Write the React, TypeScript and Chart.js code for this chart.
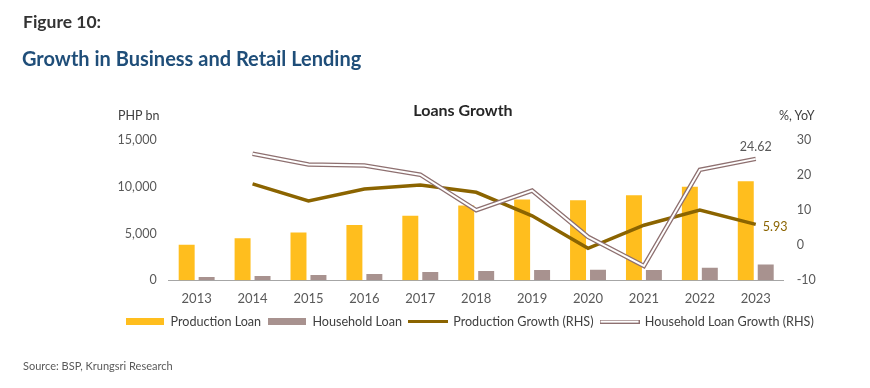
import React, { useEffect, useRef } from 'react';
import { Chart, registerables } from 'chart.js';
Chart.register(...registerables);

const years = ['2013', '2014', '2015', '2016', '2017', '2018', '2019', '2020', '2021', '2022', '2023'];
const productionLoan = [3800, 4500, 5100, 5900, 6900, 8000, 8650, 8550, 9100, 10000, 10600];
const householdLoan = [350, 460, 570, 680, 900, 1000, 1110, 1140, 1100, 1330, 1680];
const productionGrowth = [null, 17.5, 12.6, 16.0, 17.2, 15.1, 8.4, -0.9, 5.7, 10.0, 5.93];
const householdGrowth = [null, 26.1, 23.0, 22.7, 20.1, 10.0, 15.6, 2.4, -5.9, 21.5, 24.62];
const leftTicks = [0, 5000, 10000, 15000];
const rightTicks = [-10, 0, 10, 20, 30];

const C = {
  prod: '#FFBE1E',
  hh: '#A8928F',
  prodLine: '#8B6400',
  hhOutline: '#8E7070',
  tick: '#595959',
  legend: '#404040',
};
const FONT = 'Lato';

function swatch(w: number, h: number, draw: (ctx: CanvasRenderingContext2D) => void) {
  const c = document.createElement('canvas');
  c.width = w;
  c.height = h;
  const ctx = c.getContext('2d')!;
  draw(ctx);
  return c;
}

const endLabels = {
  id: 'endLabels',
  afterDatasetsDraw(chart: any) {
    const ctx = chart.ctx;
    const last = years.length - 1;
    const pHH = chart.getDatasetMeta(3).data[last];
    const pProd = chart.getDatasetMeta(2).data[last];
    ctx.save();
    ctx.font = `12.5px ${FONT}`;
    ctx.textBaseline = 'middle';
    if (pHH) {
      ctx.fillStyle = '#595959';
      ctx.textAlign = 'center';
      ctx.fillText((householdGrowth[last] as number).toFixed(2), pHH.x, pHH.y - 12);
    }
    if (pProd) {
      ctx.fillStyle = C.prodLine;
      ctx.textAlign = 'left';
      ctx.fillText((productionGrowth[last] as number).toFixed(2), pProd.x + 7, pProd.y + 3);
    }
    ctx.restore();
  },
};

export default function App() {
  const ref = useRef<HTMLCanvasElement>(null);
  useEffect(() => {
    const canvas = ref.current!;
    const sProd = swatch(38, 7, (c) => { c.fillStyle = C.prod; c.fillRect(0, 0, 38, 7); });
    const sHH = swatch(38, 7, (c) => { c.fillStyle = C.hh; c.fillRect(0, 0, 38, 7); });
    const sProdLine = swatch(40, 3, (c) => { c.fillStyle = C.prodLine; c.fillRect(0, 0, 40, 3); });
    const sHHLine = swatch(40, 4, (c) => {
      c.fillStyle = C.hhOutline; c.fillRect(0, 0, 40, 4);
      c.fillStyle = '#ffffff'; c.fillRect(1, 1, 38, 2);
    });
    const chart = new Chart(canvas, {
      type: 'bar',
      data: {
        labels: years,
        datasets: [
          { type: 'bar', label: 'Production Loan', data: productionLoan, backgroundColor: C.prod, yAxisID: 'y', order: 10, categoryPercentage: 0.714, barPercentage: 0.8 } as any,
          { type: 'bar', label: 'Household Loan', data: householdLoan, backgroundColor: C.hh, yAxisID: 'y', order: 10, categoryPercentage: 0.714, barPercentage: 0.8 } as any,
          { type: 'line', label: 'Production Growth (RHS)', data: productionGrowth, borderColor: C.prodLine, backgroundColor: C.prodLine, borderWidth: 3.5, pointRadius: 0, yAxisID: 'y1', order: 3, tension: 0 } as any,
          { type: 'line', label: 'Household Loan Growth (RHS)', data: householdGrowth, borderColor: C.hhOutline, backgroundColor: C.hhOutline, borderWidth: 4.5, pointRadius: 0, yAxisID: 'y1', order: 2, tension: 0 } as any,
          { type: 'line', label: 'inner', data: householdGrowth, borderColor: '#ffffff', backgroundColor: '#ffffff', borderWidth: 2, pointRadius: 0, yAxisID: 'y1', order: 1, tension: 0 } as any,
        ],
      },
      options: {
        responsive: false,
        animation: false,
        events: [],
        layout: { padding: { left: 70, right: 0, top: 140, bottom: 50.1 } },
        plugins: {
          legend: {
            position: 'bottom',
            labels: {
              usePointStyle: true,
              pointStyleWidth: 38,
              boxHeight: 7,
              padding: 7,
              color: C.legend,
              font: { family: FONT, size: 12.6 },
              generateLabels: () => [
                { text: 'Production Loan', pointStyle: sProd, fillStyle: C.prod, strokeStyle: C.prod, lineWidth: 0, hidden: false, datasetIndex: 0, fontColor: C.legend },
                { text: 'Household Loan', pointStyle: sHH, fillStyle: C.hh, strokeStyle: C.hh, lineWidth: 0, hidden: false, datasetIndex: 1, fontColor: C.legend },
                { text: 'Production Growth (RHS)', pointStyle: sProdLine, fillStyle: C.prodLine, strokeStyle: C.prodLine, lineWidth: 0, hidden: false, datasetIndex: 2, fontColor: C.legend },
                { text: 'Household Loan Growth (RHS)', pointStyle: sHHLine, fillStyle: '#fff', strokeStyle: C.hhOutline, lineWidth: 0, hidden: false, datasetIndex: 3, fontColor: C.legend },
              ] as any,
            },
          },
          tooltip: { enabled: false },
          title: { display: false },
        },
        scales: {
          x: {
            grid: { display: false, drawTicks: false },
            border: { display: true, color: '#A6A6A6', width: 1 },
            ticks: { color: C.tick, font: { family: FONT, size: 13 }, padding: 11, maxRotation: 0 },
            afterFit: (s: any) => { s.height = 28; },
          },
          y: {
            position: 'left',
            min: leftTicks[0],
            max: leftTicks[leftTicks.length - 1],
            afterBuildTicks: (s: any) => { s.ticks = leftTicks.map((v) => ({ value: v })); },
            ticks: { color: C.tick, font: { family: FONT, size: 12.5 }, padding: 12, callback: (v: any) => Number(v).toLocaleString('en-US') },
            grid: { display: false, drawTicks: false },
            border: { display: false },
            afterFit: (s: any) => { s.width = 98.7; },
          },
          y1: {
            position: 'right',
            min: rightTicks[0],
            max: rightTicks[rightTicks.length - 1],
            afterBuildTicks: (s: any) => { s.ticks = rightTicks.map((v) => ({ value: v })); },
            ticks: { color: C.tick, font: { family: FONT, size: 12.5 }, padding: 13 },
            grid: { display: false, drawTicks: false },
            border: { display: false },
            afterFit: (s: any) => { s.width = 86.3; },
          },
        },
      },
      plugins: [endLabels],
    } as any);
    return () => chart.destroy();
  }, []);

  const txt = (style: React.CSSProperties): React.CSSProperties => ({
    position: 'absolute',
    fontFamily: FONT,
    whiteSpace: 'nowrap',
    margin: 0,
    ...style,
  });

  return (
    <div style={{ position: 'absolute', left: 0, top: 0, width: 870, height: 388, background: '#fff', overflow: 'hidden' }}>
      <canvas ref={ref} width={870} height={388} style={{ position: 'absolute', left: 0, top: 0, width: 870, height: 388 }} />
      <div style={txt({ left: 23, top: 12, fontSize: 17.5, lineHeight: '20px', fontWeight: 700, color: '#333333' })}>Figure 10:</div>
      <div style={txt({ left: 22, top: 47, fontSize: 20, lineHeight: '22px', fontWeight: 700, color: '#1F4E79' })}>Growth in Business and Retail Lending</div>
      <div style={txt({ left: 363, width: 200, textAlign: 'center', top: 101, fontSize: 16, lineHeight: '18px', fontWeight: 700, color: '#262626' })}>Loans Growth</div>
      <div style={txt({ left: 118, top: 108, fontSize: 12.5, lineHeight: '16px', color: '#404040' })}>PHP bn</div>
      <div style={txt({ left: 779, top: 108, fontSize: 12.5, lineHeight: '16px', color: '#404040' })}>%, YoY</div>
      <div style={txt({ left: 23, top: 359, fontSize: 11, lineHeight: '14px', color: '#595959' })}>Source: BSP, Krungsri Research</div>
    </div>
  );
}
